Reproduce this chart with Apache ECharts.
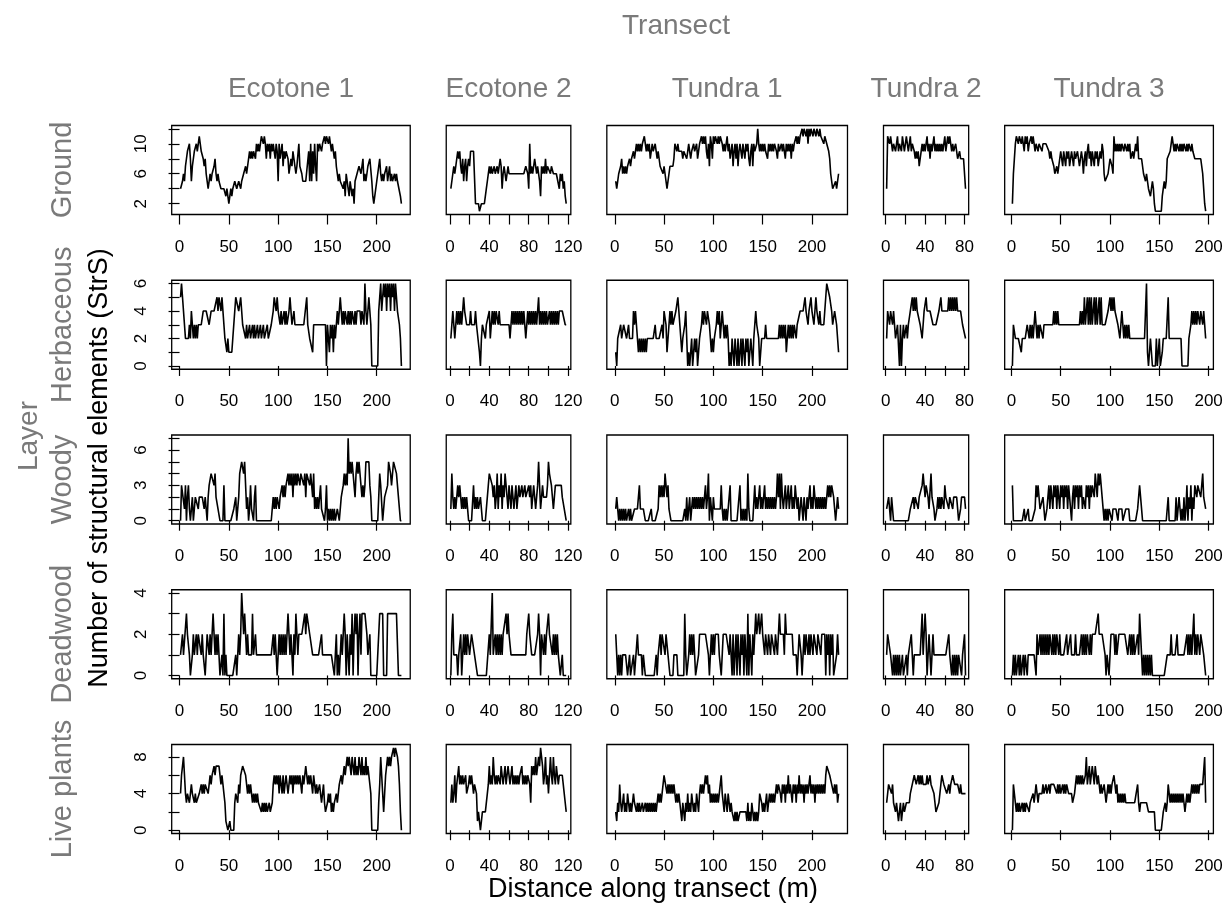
<!DOCTYPE html>
<html>
<head>
<meta charset="utf-8">
<script src="https://cdn.jsdelivr.net/npm/echarts@6/dist/echarts.min.js"></script>
<style>
  html, body { margin: 0; padding: 0; background: #ffffff; }
  #chart { width: 1230px; height: 910px; }
</style>
</head>
<body>
<div id="chart"></div>
<script>
// Structural elements counted every metre along five transects, per vegetation layer.
const transects = ['Ecotone 1', 'Ecotone 2', 'Tundra 1', 'Tundra 2', 'Tundra 3'];
const layers = ['Ground', 'Herbaceous', 'Woody', 'Deadwood', 'Live plants'];

// Data range of each layer (rows share a y scale)
const layerRange = [[1, 12], [0, 6], [0, 7], [0, 4], [0, 9]];
// y tick marks and the tick labels actually printed
const yTickValues = [[2, 4, 6, 8, 10, 12], [0, 1, 2, 3, 4, 5, 6], [0, 1, 2, 3, 4, 5, 6, 7], [0, 1, 2, 3, 4], [0, 2, 4, 6, 8]];
const yTickLabels = [[2, 6, 10], [0, 2, 4, 6], [0, 3, 6], [0, 2, 4], [0, 4, 8]];
// x tick marks and labels per transect
const xTickValues = [[0, 50, 100, 150, 200], [0, 20, 40, 60, 80, 100, 120], [0, 50, 100, 150, 200], [0, 20, 40, 60, 80], [0, 50, 100, 150, 200]];
const xTickLabels = [[0, 50, 100, 150, 200], [0, 40, 80, 120], [0, 50, 100, 150, 200], [0, 40, 80], [0, 50, 100, 150, 200]];

// ---- Ground ----
const groundEcotone1 = [4,4,5,6,5,7,8,9,9,10, 8,5,7,8,9,9,10,9,10,11, 10,9,9,8,7,8,6,5,4,5, 6,5,6,6,7,8,6,5,6,5,
  5,4,4,4,4,4,3,4,3,2, 3,4,3,4,4,5,5,4,4,5, 5,4,5,5,6,6,7,6,7,8, 9,8,9,8,9,9,8,10,9,10,
  9,10,11,11,10,11,10,8,10,9, 10,8,10,9,10,9,8,10,9,5, 10,8,9,10,7,9,8,9,9,8, 6,7,8,7,9,8,7,6,7,7,
  10,7,7,6,5,5,5,5,5,5, 9,5,10,5,9,6,10,7,5,10, 9,10,10,9,10,10,11,10,11,11, 10,11,10,9,10,10,8,9,7,6,
  5,6,5,5,5,4,5,3,6,5, 4,3,5,4,3,4,2,5,5,6, 6,7,7,6,7,8,5,6,5,6, 7,7,8,8,5,3,2,3,4,5,
  6,7,8,6,5,6,5,6,6,7, 5,6,7,5,6,5,5,6,5,6, 5,5,5,3,2];
const groundEcotone2 = [4,5,6,7,6,7,8,9,8,9, 7,6,8,5,7,8,5,7,8,7, 9,9,9,9,9,2,2,2,2,1, 1,2,2,2,2,2,4,5,6,7,
  6,7,6,6,7,6,6,7,6,7, 8,7,4,6,7,6,5,6,7,6, 6,6,6,6,6,6,6,6,6,6, 6,6,6,6,6,6,7,7,6,4,
  10,6,7,6,7,8,8,6,7,6, 5,3,7,6,7,6,8,6,7,7, 7,6,7,7,6,6,6,6,6,6, 4,6,5,6,4,5,3,2];
const groundTundra1 = [5,4,4,6,6,7,8,6,7,6, 7,6,7,7,8,7,8,8,9,8, 9,10,9,10,9,10,9,10,10,11, 10,9,10,9,10,8,9,10,9,9,
  10,9,8,9,8,7,7,7,6,7, 6,5,4,4,6,7,7,7,7,8, 10,10,9,10,9,9,9,9,8,9, 9,9,8,9,10,9,8,9,9,10,
  9,9,10,8,9,10,10,11,10,11, 10,11,9,8,10,7,11,10,8,11, 10,11,11,10,11,10,11,11,10,9, 10,9,10,11,9,10,8,9,10,7,
  9,10,8,10,7,9,10,9,8,10, 9,8,10,9,10,8,7,9,10,7, 10,9,9,10,12,10,9,10,9,10, 9,10,9,9,8,10,9,10,9,10,
  9,10,10,9,8,10,9,9,10,9, 10,9,8,10,9,10,9,10,8,10, 9,10,10,11,10,11,10,11,11,12, 11,12,12,11,12,10,12,11,12,12,
  11,12,12,11,12,12,11,12,11,11, 11,10,11,11,10,10,9,8,6,5, 4,4,4,5,4,5,6];
const groundTundra2 = [4,11,11,10,11,10,9,10,10,9, 10,11,9,10,10,9,11,10,9,10, 11,10,9,10,11,9,10,10,9,8, 9,8,9,7,8,9,10,9,10,9,
  10,11,9,10,8,10,9,10,11,9, 10,9,10,9,10,9,10,9,10,11, 9,10,11,10,11,10,9,10,9,9, 10,9,8,8,9,8,8,8,8,8,4];
const groundTundra3 = [2,6,8,10,11,11,10,11,11,10, 11,10,9,11,10,11,9,10,10,11, 10,11,10,9,10,10,9,10,10,10, 9,10,10,10,10,10,10,9,8,9,
  8,8,7,6,6,7,6,7,8,9, 8,7,9,8,7,9,8,9,7,8, 9,8,7,9,8,8,9,8,7,8, 9,8,6,8,9,7,9,10,8,9,
  7,9,8,7,9,8,9,7,8,9, 8,10,9,6,5,5,5,6,7,8, 8,7,6,11,9,10,9,10,9,10, 9,10,10,9,10,10,9,10,9,10,
  8,8,9,8,8,10,9,11,8,8, 8,8,8,6,6,5,6,5,4,4, 3,4,5,4,2,1,1,1,1,1, 1,1,3,4,5,4,5,8,8,8,
  9,10,11,10,9,10,9,10,10,9, 10,9,10,9,10,10,9,10,9,10, 10,9,10,9,9,8,8,8,8,8, 8,8,7,6,4,2,1];

// ---- Herbaceous ----
const herbEcotone1 = [5,6,5,4,3,2,2,2,2,3, 2,4,3,2,3,2,3,2,3,3, 3,3,3,4,4,4,4,4,4,3, 3,4,4,4,4,4,4,5,4,5,
  5,4,5,4,4,2,2,1,2,1, 1,1,1,2,2,4,5,5,5,4, 4,5,4,3,3,3,2,3,2,2, 3,2,2,3,2,3,2,2,3,2,
  2,3,2,2,3,2,2,2,3,2, 2,2,3,3,4,5,5,4,5,4, 4,3,4,3,3,4,3,4,3,3, 4,5,4,3,3,4,3,3,3,3,
  3,3,3,3,3,3,3,3,5,3, 3,2,2,2,1,3,3,3,3,3, 3,3,3,3,3,3,3,3,0,3, 2,1,3,2,3,1,3,2,3,4,
  3,4,5,4,3,4,3,4,4,3, 4,3,4,3,4,4,3,4,3,4, 4,4,4,3,4,4,3,6,4,3, 4,5,4,3,0,0,0,0,0,0,
  0,4,5,6,4,5,6,5,6,4, 6,5,6,4,6,5,6,4,6,5, 4,4,3,2,0];
const herbEcotone2 = [2,2,4,3,2,3,4,3,4,3, 4,3,4,5,4,4,3,3,3,3, 4,3,3,3,3,4,3,3,3,1, 0,2,3,3,3,2,3,3,3,4,
  2,3,4,3,4,3,4,4,3,4, 3,3,3,3,3,3,3,3,3,3, 2,3,4,3,4,3,4,3,4,3, 4,3,4,3,4,3,2,3,4,3,
  4,3,4,3,4,3,4,3,4,5, 3,4,3,4,3,4,3,4,3,3, 4,3,4,3,4,3,4,3,4,3, 4,4,4,4,4,4,3,3];
const herbTundra1 = [1,0,2,2,2,3,2,2,3,3, 3,2,2,3,2,2,2,2,4,3, 4,3,2,1,2,1,2,1,2,1, 2,1,2,2,2,2,2,2,2,2,
  3,2,2,2,2,2,2,3,2,4, 4,3,1,2,3,4,3,4,3,3, 3,4,4,5,4,3,2,1,2,2, 3,4,2,0,1,0,1,2,0,1,
  2,1,2,0,1,2,2,3,4,3, 4,4,3,4,4,3,2,1,2,1, 2,2,3,4,3,4,2,3,4,3, 2,3,2,3,2,0,1,0,2,1,
  0,2,1,0,2,0,1,2,0,2, 1,0,2,1,2,0,1,2,1,0, 2,3,4,3,3,2,0,0,2,2, 2,2,3,2,2,2,2,2,2,2,
  2,2,2,2,2,2,3,2,3,2, 3,2,3,1,2,3,2,3,2,3, 2,3,3,2,3,3,3,4,4,4, 4,4,5,4,4,3,4,4,5,4,
  4,3,4,5,4,4,3,4,3,3, 3,3,4,5,6,6,6,5,5,4, 3,3,4,4,3,2,1];
const herbTundra2 = [2,4,4,3,4,4,3,4,3,2, 2,3,3,0,3,0,2,3,2,2, 3,2,3,3,4,4,5,4,5,4, 5,4,4,4,3,3,2,3,4,4,
  5,4,4,4,4,4,4,3,3,3, 3,3,3,4,4,5,4,4,4,4, 4,4,4,5,4,5,4,5,4,5, 4,5,4,4,4,4,4,3,3,3,2];
const herbTundra3 = [0,3,3,2,2,2,2,2,2,1, 2,2,2,2,2,3,3,2,3,2, 3,2,3,4,3,2,3,2,3,3, 3,2,3,3,3,3,3,3,3,3,
  3,3,4,3,4,3,4,3,3,3, 3,3,3,3,3,3,3,3,3,3, 3,3,3,3,3,3,3,3,3,4, 3,4,3,5,3,4,5,3,5,3,
  5,3,4,5,3,5,3,4,5,3, 5,3,3,3,3,3,3,4,4,5, 4,5,4,5,4,4,4,3,3,2, 3,4,3,2,3,2,3,2,3,2,
  2,2,2,2,2,2,2,2,2,2, 2,2,2,2,2,2,6,1,0,0, 2,1,0,0,0,0,2,0,0,2, 0,0,1,2,2,2,2,2,5,2,
  2,2,2,2,2,2,2,2,2,2, 2,2,0,0,0,0,0,0,0,2, 2,3,4,3,4,3,4,3,4,4, 3,4,4,3,4,3,2];

// ---- Woody ----
const woodyEcotone1 = [0,3,3,3,1,3,0,2,3,1, 0,1,2,0,1,2,2,2,1,2, 2,2,2,2,1,2,1,0,2,3, 3,4,4,4,3,4,2,2,1,1,
  0,0,0,0,3,0,0,0,0,0, 0,0,0,0,1,1,2,0,0,2, 4,4,5,5,4,5,3,1,2,0, 1,3,1,1,0,2,3,0,0,0,
  0,0,0,0,0,0,0,0,0,0, 0,0,0,0,2,1,2,1,2,2, 1,2,2,3,2,3,2,3,3,4, 3,4,3,4,2,4,3,4,3,4,
  4,3,4,4,4,3,4,2,4,4, 4,3,4,3,2,4,1,2,1,2, 1,2,3,1,1,1,0,1,3,0, 1,0,1,0,1,0,1,0,0,1,
  1,0,1,2,2,3,4,3,4,3, 7,4,5,4,5,4,3,2,4,5, 4,5,4,3,2,3,2,3,5,5, 5,5,3,2,0,0,0,0,0,0,
  0,0,4,3,3,0,0,2,2,2, 3,5,5,4,3,4,5,5,5,4, 3,2,1,0,0];
const woodyEcotone2 = [1,4,2,1,2,1,2,3,2,3, 2,1,2,1,2,1,2,1,0,0, 0,0,0,3,1,2,1,2,1,1, 2,1,0,0,0,0,1,2,3,4,
  4,4,3,2,3,1,2,4,1,3, 2,4,1,3,2,4,3,2,1,3, 2,1,3,2,1,2,3,1,2,3, 2,2,3,2,2,3,2,2,2,3,
  2,3,1,2,3,2,1,2,3,5, 3,1,2,3,2,2,2,2,3,5, 4,4,3,2,1,2,3,3,3,3, 3,3,3,2,2,1,1,0];
const woodyTundra1 = [1,2,1,0,1,0,1,0,1,0, 1,0,0,1,0,1,0,0,0,1, 1,1,1,2,3,1,1,1,1,1, 0,0,0,0,0,0,1,0,0,0,
  0,0,0,1,3,2,3,2,3,2, 4,3,2,3,1,1,0,0,0,0, 0,0,0,0,0,0,0,0,0,0, 1,0,2,0,1,2,0,1,2,1,
  2,1,2,1,2,1,2,1,2,1, 2,3,1,2,4,0,2,1,0,2, 1,1,1,1,1,1,1,3,1,0, 1,0,1,0,1,1,3,0,0,0,
  0,0,0,0,0,0,3,0,1,0, 1,0,1,0,4,1,0,0,0,0, 0,3,1,2,1,2,3,1,2,1, 2,3,1,2,1,2,1,2,1,2,
  1,2,1,2,4,2,4,1,4,2, 1,2,3,1,2,3,1,2,3,1, 2,1,3,2,1,2,0,1,2,1, 0,2,1,0,2,1,2,3,1,2,
  1,3,2,1,2,1,2,1,2,1, 2,1,2,1,2,3,2,3,2,3, 3,2,1,0,1,2,1];
const woodyTundra2 = [1,1,2,1,0,2,1,0,0,0, 0,0,0,0,0,0,0,0,0,0, 0,0,0,0,1,1,1,2,1,2, 2,2,1,2,2,2,3,4,3,2,
  3,3,2,1,1,4,2,2,1,0, 0,1,2,1,2,1,2,2,1,3, 2,2,2,1,2,2,2,1,2,2, 2,2,1,0,0,1,2,2,2,2,1];
const woodyTundra3 = [3,0,0,0,0,0,0,0,0,0, 0,0,1,0,0,0,1,0,0,0, 0,0,0,1,3,2,3,2,1,1, 1,2,1,0,0,1,2,3,1,3,
  2,1,3,2,3,1,3,2,1,3, 2,3,1,3,2,3,1,3,2,1, 0,2,3,1,3,2,3,1,3,2, 3,1,2,2,1,3,2,3,1,3,
  2,3,3,2,4,3,2,4,3,4, 3,2,1,0,1,0,1,0,1,1, 1,0,1,1,1,1,1,0,1,1, 1,1,0,0,0,1,1,1,1,0,
  0,0,0,0,0,0,0,1,1,3, 2,1,0,0,0,0,0,0,0,0, 0,0,0,0,0,0,0,0,0,0, 0,0,0,0,0,0,0,0,2,0,
  0,0,0,0,0,0,2,0,0,2, 1,0,1,0,2,0,1,3,0,2, 1,3,0,2,1,3,3,2,3,3, 3,2,3,4,2,2,1];

// ---- Deadwood ----
const deadEcotone1 = [1,1,2,1,1,1,3,2,2,1, 0,0,1,2,1,1,2,1,2,2, 2,1,2,1,1,0,1,2,2,1, 2,1,2,3,2,1,2,1,2,1,
  0,0,1,0,3,0,1,0,0,0, 0,0,0,0,0,0,1,0,1,2, 1,2,4,3,2,3,2,1,2,1, 1,1,1,3,1,1,2,1,1,1,
  1,1,1,1,1,1,1,1,1,1, 1,1,1,1,2,1,2,1,0,1, 2,1,2,1,2,1,2,1,2,3, 2,1,2,1,0,2,1,3,2,1,
  2,2,2,2,2,2,3,2,3,3, 3,2,2,2,1,1,1,1,1,1, 1,1,1,2,1,1,1,1,1,1, 1,1,1,1,1,1,0,0,2,0,
  1,0,1,2,1,2,3,2,0,2, 1,0,2,1,3,0,2,3,2,3, 0,2,3,1,3,3,3,3,3,2, 1,1,2,0,0,0,0,0,0,0,
  0,0,3,3,3,3,0,0,0,0, 3,3,3,3,3,3,3,3,3,3, 3,0,0,0,0];
const deadEcotone2 = [0,2,3,1,1,1,1,0,1,1, 2,0,1,2,1,2,1,2,2,1, 1,2,2,2,1,1,1,0,0,0, 0,0,0,0,0,0,0,0,0,2,
  1,1,4,1,1,2,1,2,1,2, 1,2,1,2,2,2,3,2,3,2, 2,1,1,1,1,1,1,1,1,1, 1,1,1,1,1,1,1,2,2,3,
  2,2,1,1,1,1,1,1,2,3, 2,0,2,2,1,2,1,2,2,3, 2,2,2,1,2,1,2,1,2,1, 1,0,0,1,0,0,0,0];
const deadTundra1 = [2,1,0,1,0,1,0,1,1,1, 1,1,0,0,1,0,0,0,1,0, 0,0,2,1,1,1,1,0,1,1, 0,0,0,0,0,0,0,0,0,0,
  0,1,0,1,1,2,1,2,2,2, 1,2,2,1,1,0,0,0,0,1, 1,1,1,0,0,0,0,0,0,0, 3,1,0,0,1,2,1,2,1,2,
  1,0,0,0,1,2,2,2,2,2, 2,2,2,2,1,0,1,2,1,2, 1,2,2,2,2,1,1,0,1,2, 2,2,2,2,2,1,2,1,0,2,
  0,1,2,0,2,2,0,2,1,2, 0,2,2,0,3,0,2,1,0,2, 1,2,3,2,2,3,2,2,3,2, 2,1,2,2,1,2,2,1,2,2,
  2,1,2,2,1,2,3,2,2,2, 2,1,3,2,2,2,2,2,2,2, 1,1,1,1,0,1,2,2,1,0, 1,2,1,2,2,1,2,1,2,2,
  1,2,2,2,1,2,2,2,1,2, 2,2,2,0,2,1,2,0,2,1, 2,0,0,0,1,2,1];
const deadTundra2 = [1,2,2,2,1,1,0,1,0,1, 0,1,0,1,0,0,1,0,0,0, 1,0,1,1,1,2,1,0,1,1, 1,1,1,1,1,2,3,1,2,3,
  2,0,1,2,1,0,1,2,1,1, 1,1,1,1,1,1,1,1,1,1, 1,1,1,2,1,1,0,1,0,1, 0,1,0,1,1,1,0,1,1,2,0];
const deadTundra3 = [0,1,0,1,0,0,1,0,1,0, 0,1,0,1,1,0,1,1,1,1, 1,1,1,1,0,2,1,1,2,1, 2,1,2,1,2,1,2,1,2,2,
  1,2,1,2,1,2,2,1,2,1, 1,1,1,1,1,2,1,1,1,2, 1,1,1,1,2,1,1,1,1,1, 2,1,2,1,2,1,2,2,1,2,
  1,2,2,2,2,2,2,3,2,2, 2,2,2,2,1,0,1,1,0,1, 2,2,2,2,1,2,1,1,2,2, 2,2,2,2,2,2,2,1,1,2,
  1,2,1,2,1,1,1,2,1,3, 2,1,0,1,0,1,0,1,0,1, 0,1,0,0,0,0,0,0,0,0, 0,0,0,0,0,0,0,1,1,1,
  1,2,1,1,1,1,1,2,1,1, 1,1,1,1,1,1,1,2,1,2, 1,2,1,2,3,1,2,1,2,2, 1,2,2,2,1,1,0];

// ---- Live plants ----
const liveEcotone1 = [4,6,7,8,6,4,3,4,4,3, 4,5,4,4,3,4,3,3,3,4, 4,5,4,5,4,5,5,5,4,5, 6,5,6,6,7,6,7,7,7,7,
  6,5,6,5,4,3,1,1,0,0, 1,0,0,0,0,3,4,4,3,5, 4,6,6,7,7,7,6,5,4,5, 4,5,4,3,4,3,4,3,4,3,
  3,3,2,3,2,3,2,3,2,2, 3,2,2,3,5,6,5,6,5,6, 4,6,5,4,6,4,5,6,5,4, 5,6,5,6,4,6,5,6,5,6,
  5,6,5,4,6,5,6,7,6,5, 6,5,6,5,4,6,5,4,5,4, 4,5,4,3,4,5,3,2,2,3, 4,3,4,2,3,2,3,3,4,3,
  4,5,5,6,5,6,7,6,7,8, 7,8,7,6,8,7,6,8,6,7, 6,8,7,6,8,6,7,6,8,6, 7,6,5,4,0,0,0,0,0,0,
  0,3,5,8,6,4,2,4,6,7, 8,7,8,7,8,8,9,8,9,9, 8,7,5,2,0];
const liveEcotone2 = [3,5,3,4,6,3,5,6,7,5, 6,5,6,5,5,6,4,4,5,6, 5,6,5,4,5,5,4,1,2,1, 0,1,2,2,2,2,2,4,5,7,
  5,6,5,8,6,5,6,5,6,6, 5,7,6,5,6,7,5,6,7,6, 5,6,7,5,6,5,6,5,6,5, 6,6,7,5,6,5,6,5,6,6,
  5,3,7,6,7,6,8,6,7,8, 7,9,8,7,5,6,8,5,6,4, 6,8,6,5,8,6,5,7,6,5, 6,6,6,6,5,4,3,2];
const liveTundra1 = [2,1,3,2,5,3,2,3,4,2, 3,2,4,3,2,3,2,3,4,3, 3,2,3,2,3,2,2,3,2,2, 3,2,3,2,3,2,3,2,3,2,
  3,2,3,4,3,4,3,4,4,6, 6,6,4,5,4,5,4,5,4,5, 4,3,4,3,4,3,2,1,3,2, 1,3,2,4,2,3,2,4,3,2,
  3,2,4,3,2,4,5,4,5,4, 5,6,5,6,4,5,3,4,3,4, 3,4,3,4,3,4,5,6,4,3, 2,4,3,2,4,3,2,3,2,2,
  1,2,1,2,1,1,2,2,2,2, 2,2,2,1,3,1,2,1,3,2, 1,2,1,2,1,2,4,4,3,2, 3,2,3,4,2,3,4,3,4,3,
  4,3,4,5,4,5,5,4,3,5, 4,5,3,5,4,6,4,5,4,3, 5,4,5,3,5,4,6,4,5,4, 5,3,5,4,5,4,5,6,4,5,
  4,5,3,5,4,5,4,5,4,5, 4,5,4,6,7,7,7,6,6,5, 5,4,5,4,5,3,4];
const liveTundra2 = [3,4,5,5,5,4,5,3,3,2, 3,3,1,2,3,1,2,3,2,2, 3,3,3,3,4,4,5,5,6,6, 5,5,6,5,6,5,6,5,5,5,
  5,6,5,5,6,5,5,5,4,3, 2,2,2,3,3,5,6,6,5,5, 5,4,4,5,4,5,5,6,6,5, 5,5,5,5,4,5,4,4,4,4,4];
const liveTundra3 = [0,5,4,3,2,3,2,3,2,2, 3,2,3,2,3,3,3,2,3,3, 3,4,3,4,5,4,3,4,4,4, 4,5,4,4,5,4,4,5,4,5,
  5,5,5,5,5,4,5,4,5,4, 4,5,4,5,4,5,5,4,4,4, 4,3,3,4,5,6,5,6,5,6, 5,6,5,5,6,8,5,6,7,5,
  6,7,6,5,7,6,5,6,5,4, 5,4,4,5,4,3,4,5,4,5, 4,5,5,6,5,4,5,3,4,3, 4,3,4,3,4,3,3,3,3,3,
  3,3,3,3,3,3,3,5,3,2, 3,3,3,3,3,3,3,3,2,2, 2,2,2,2,2,0,0,0,0,0, 0,0,0,2,2,3,2,3,5,4,
  3,4,3,4,3,4,3,4,3,4, 3,4,3,4,3,2,3,4,3,4, 3,4,5,4,5,4,5,4,5,4, 5,5,5,5,5,8,3];

const panelData = [
  [groundEcotone1, groundEcotone2, groundTundra1, groundTundra2, groundTundra3],
  [herbEcotone1, herbEcotone2, herbTundra1, herbTundra2, herbTundra3],
  [woodyEcotone1, woodyEcotone2, woodyTundra1, woodyTundra2, woodyTundra3],
  [deadEcotone1, deadEcotone2, deadTundra1, deadTundra2, deadTundra3],
  [liveEcotone1, liveEcotone2, liveTundra1, liveTundra2, liveTundra3]
];

// ---- layout ----
const FONT = '"Liberation Sans", Arial, Helvetica, sans-serif';
const GREY = '#7a7a7a';
const PX_PER_M = 0.986;      // same horizontal scale in every panel
const FIRST_LEFT = 171.7;
const COL_GAP = 36;
const ROW_TOP0 = 125.5, ROW_STEP = 154.75, ROW_H = 89;

// 4% expansion of the data range on each side
function padded(lo, hi) { const d = (hi - lo) * 0.04; return [lo - d, hi + d]; }

const colBoxes = [];
let cursor = FIRST_LEFT;
panelData[0].forEach(arr => {
  const n = arr.length;
  const w = (n - 1) * 1.08 * PX_PER_M;
  colBoxes.push({ left: cursor, width: w, xr: padded(1, n) });
  cursor += w + COL_GAP;
});

const grids = [], xAxes = [], yAxes = [], series = [];
layers.forEach((layer, r) => {
  const top = ROW_TOP0 + r * ROW_STEP;
  const yr = padded(layerRange[r][0], layerRange[r][1]);
  transects.forEach((tr, c) => {
    const idx = r * transects.length + c;
    const box = colBoxes[c];
    grids.push({
      left: box.left, top: top, width: box.width, height: ROW_H,
      show: true, borderColor: '#000', borderWidth: 1.3, containLabel: false
    });
    xAxes.push({
      type: 'value', gridIndex: idx, min: box.xr[0], max: box.xr[1],
      axisLine: { show: false }, splitLine: { show: false },
      axisTick: { show: true, customValues: xTickValues[c], length: 10, lineStyle: { color: '#000', width: 1.2 } },
      axisLabel: { show: true, customValues: xTickLabels[c], fontSize: 17, color: '#000', fontFamily: FONT, margin: 24 }
    });
    if (c === 0) {
      yAxes.push({
        type: 'value', gridIndex: idx, min: yr[0], max: yr[1],
        axisLine: { show: false }, splitLine: { show: false },
        axisTick: { show: true, customValues: yTickValues[r], length: 11, lineStyle: { color: '#000', width: 1.2 } },
        axisLabel: { show: true, customValues: yTickLabels[r], rotate: 90, fontSize: 17, color: '#000', fontFamily: FONT, margin: 22 }
      });
    } else {
      yAxes.push({ type: 'value', gridIndex: idx, min: yr[0], max: yr[1], show: false, splitLine: { show: false } });
    }
    series.push({
      type: 'line', xAxisIndex: idx, yAxisIndex: idx,
      data: panelData[r][c].map((v, i) => [i + 1, v]),
      showSymbol: false, symbol: 'none', silent: true,
      lineStyle: { color: '#000', width: 1.6 }, itemStyle: { color: '#000' }
    });
  });
});

// ---- text ----
const graphics = [];
function addText(text, x, y, size, color, rotate) {
  graphics.push({
    type: 'text', x: x, y: y, rotation: rotate ? Math.PI / 2 : 0, silent: true,
    style: { text: text, font: size + 'px ' + FONT, fill: color, align: 'center', verticalAlign: 'middle' }
  });
}
addText('Transect', 676, 26, 28, GREY, false);
transects.forEach((t, c) => addText(t, colBoxes[c].left + colBoxes[c].width / 2, 89, 28, GREY, false));
layers.forEach((l, r) => addText(l, 63, ROW_TOP0 + r * ROW_STEP + ROW_H / 2, 29, GREY, true));
addText('Layer', 29, 436, 28, GREY, true);
addText('Number of structural elements (StrS)', 100, 468, 27, '#000', true);
addText('Distance along transect (m)', 653, 890, 27, '#000', false);

const chart = echarts.init(document.getElementById('chart'), null, { renderer: 'canvas' });
chart.setOption({
  animation: false,
  backgroundColor: '#ffffff',
  grid: grids, xAxis: xAxes, yAxis: yAxes, series: series,
  graphic: graphics
});
</script>
</body>
</html>
